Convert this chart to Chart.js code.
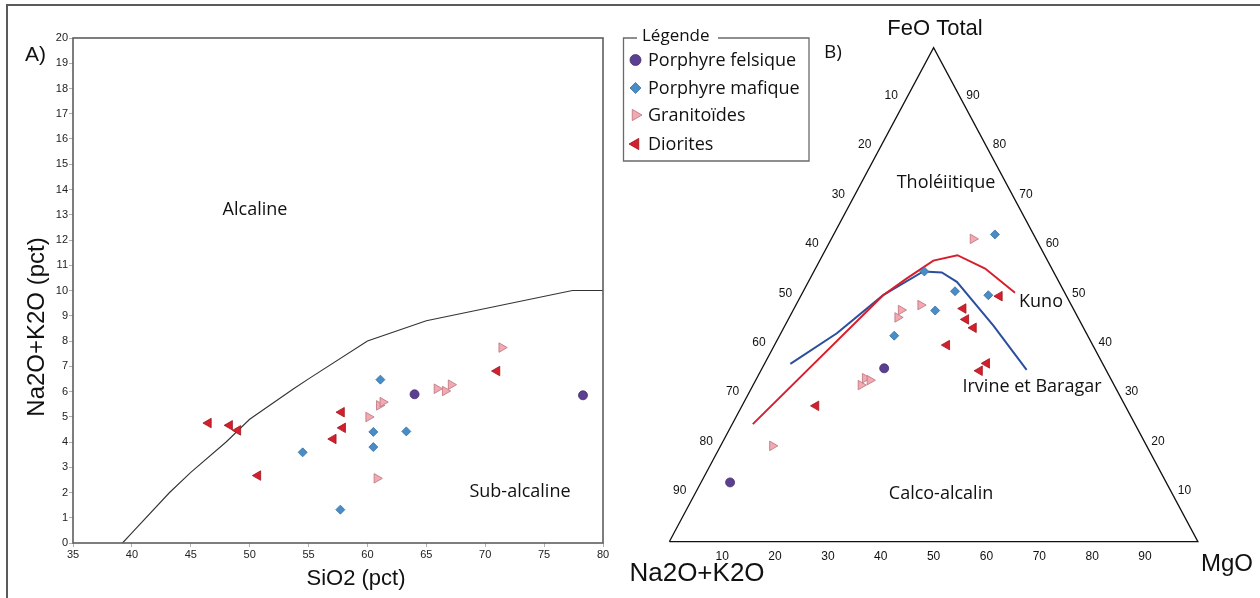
<!DOCTYPE html>
<html>
<head>
<meta charset="utf-8">
<script src="https://cdn.jsdelivr.net/npm/chart.js@4.4.0/dist/chart.umd.min.js"></script>
<style>
  body { margin: 0; background: #fff; width: 1260px; height: 598px; overflow: hidden; position: relative; }
  #frame { position: absolute; left: 6px; top: 4px; width: 1260px; height: 600px;
           border-top: 2px solid #5a5a5a; border-left: 2px solid #5a5a5a; }
  #tasChart { position: absolute; left: 0; top: 0; }
  #afmChart { position: absolute; left: 620px; top: 0; }
</style>
</head>
<body>
<div id="frame"></div>
<canvas id="tasChart" width="620" height="598"></canvas>
<canvas id="afmChart" width="640" height="598"></canvas>
<script>
// ---- A) SiO2 vs Na2O+K2O ----
const felsicSiO2 = [64.0, 78.3];
const felsicAlk = [5.89, 5.85];
const maficSiO2 = [61.1, 60.5, 60.5, 63.3, 54.5, 57.7];
const maficAlk = [6.47, 4.40, 3.80, 4.42, 3.59, 1.32];
const graniteSiO2 = [60.8, 60.1, 61.0, 61.3, 65.9, 66.6, 67.1, 71.4];
const graniteAlk = [2.56, 4.99, 5.45, 5.58, 6.11, 6.02, 6.27, 7.74];
const dioriteSiO2 = [46.5, 48.3, 49.0, 50.7, 57.8, 57.9, 57.1, 71.0];
const dioriteAlk = [4.75, 4.66, 4.46, 2.67, 5.18, 4.56, 4.12, 6.81];
// alcaline / sub-alcaline divide
const divideSiO2 = [39.2, 40, 43.2, 45, 48, 50, 53.7, 55, 60, 65, 77.4, 80];
const divideAlk = [0, 0.4, 2, 2.8, 4, 4.9, 6.1, 6.5, 8, 8.8, 10, 10];

// ---- B) AFM ternary (A = Na2O+K2O, F = FeO total, M = MgO) ----
const felsicA = [41.8, 82.5];
const felsicF = [35.1, 12.0];
const felsicM = [23.1, 5.5];
const maficA = [7.3, 24.4, 20.6, 14.7, 26.3, 36.6];
const maficF = [62.2, 54.7, 50.7, 49.9, 46.8, 41.7];
const maficM = [30.5, 20.9, 28.7, 35.4, 26.9, 21.7];
const graniteA = [11.9, 32.7, 34.1, 28.5, 47.9, 46.4, 45.7, 70.8];
const graniteF = [61.3, 46.9, 45.4, 47.9, 31.7, 33.1, 32.7, 19.4];
const graniteM = [26.8, 20.4, 20.5, 23.6, 20.4, 20.5, 21.6, 9.8];
const dioriteA = [12.7, 20.8, 21.4, 20.8, 27.6, 21.9, 24.0, 58.5];
const dioriteF = [49.7, 47.2, 45.0, 43.3, 39.8, 36.1, 34.6, 27.5];
const dioriteM = [37.6, 32.0, 33.6, 35.9, 32.6, 42.0, 41.4, 14.0];
const kunoA = [72.3, 34.6, 28.6, 21.6, 16.5, 12.6, 9.4];
const kunoF = [23.8, 49.9, 53.2, 56.9, 58.0, 55.3, 50.4];
const kunoM = [3.9, 15.5, 18.2, 21.5, 25.5, 32.1, 40.2];
const irvineA = [59.1, 47.2, 34.6, 24.6, 21.2, 19.3, 16.8, 15.0];
const irvineF = [36.0, 42.2, 49.9, 54.7, 54.5, 52.6, 43.7, 34.8];
const irvineM = [4.9, 10.6, 15.5, 20.7, 24.3, 28.1, 39.5, 50.2];
const edgeTicks = [10, 20, 30, 40, 50, 60, 70, 80, 90];

const series = [
    { label: 'Porphyre felsique', style: 'circle', rot: 0, r: 4.5, bg: '#5b3f91', bd: '#46306f' },
    { label: 'Porphyre mafique', style: 'rectRot', rot: 0, r: 4.5, bg: '#4a8cc6', bd: '#3570a3' },
    { label: 'Granitoïdes', style: 'triangle', rot: 90, r: 5.5, bg: '#f2a9b1', bd: '#b9737d' },
    { label: 'Diorites', style: 'triangle', rot: -90, r: 5.5, bg: '#d61f2c', bd: '#9c1820' },
];

const ARIAL = '"Liberation Sans", Arial, sans-serif';
const SANS = '"Open Sans", sans-serif';

function pairs(xs, ys) {
    return xs.map((v, i) => ({ x: v, y: ys[i] }));
}

// ternary composition -> cartesian (base 0..100, apex at y = 100)
function tern(a, f, m) {
    const s = a + f + m;
    return { x: 100 * (m + f / 2) / s, y: 100 * f / s };
}

function ternPoints(as, fs, ms) {
    return as.map((a, i) => tern(a, fs[i], ms[i]));
}

function pointDataset(s, data) {
    return {
        label: s.label,
        data: data,
        pointStyle: s.style,
        rotation: s.rot,
        pointRadius: s.r,
        pointBackgroundColor: s.bg,
        pointBorderColor: s.bd,
        pointBorderWidth: 0.8,
        showLine: false,
        clip: false,
    };
}

function lineDataset(data, color, width) {
    return {
        data: data,
        showLine: true,
        borderColor: color,
        borderWidth: width,
        pointRadius: 0,
        fill: false,
        clip: false,
    };
}

// ---- chart A ----
const tasDecor = {
    id: 'tasDecor',
    afterDatasetsDraw(chart) {
        const { ctx, chartArea: a } = chart;
        ctx.save();
        ctx.strokeStyle = '#5e5e5e';
        ctx.lineWidth = 1.6;
        ctx.strokeRect(a.left, a.top, a.right - a.left, a.bottom - a.top);

        ctx.fillStyle = '#111';
        ctx.textAlign = 'center';
        ctx.textBaseline = 'middle';
        ctx.font = '18px ' + SANS;
        ctx.fillText('Alcaline', 255, 210);
        ctx.fillText('Sub-alcaline', 520, 492);

        ctx.textBaseline = 'alphabetic';
        ctx.font = '22px ' + ARIAL;
        ctx.fillText('SiO2 (pct)', 356, 585);

        ctx.textAlign = 'left';
        ctx.font = '21px ' + ARIAL;
        ctx.fillText('A)', 25, 61);

        ctx.translate(43.5, 327);
        ctx.rotate(-Math.PI / 2);
        ctx.textAlign = 'center';
        ctx.font = '24px ' + ARIAL;
        ctx.fillText('Na2O+K2O (pct)', 0, 0);
        ctx.restore();
    }
};

const tickFont = { family: ARIAL, size: 11 };

new Chart(document.getElementById('tasChart').getContext('2d'), {
    type: 'scatter',
    data: {
        datasets: [
            pointDataset(series[0], pairs(felsicSiO2, felsicAlk)),
            pointDataset(series[1], pairs(maficSiO2, maficAlk)),
            pointDataset(series[2], pairs(graniteSiO2, graniteAlk)),
            pointDataset(series[3], pairs(dioriteSiO2, dioriteAlk)),
            lineDataset(pairs(divideSiO2, divideAlk), '#333', 1.1),
        ]
    },
    options: {
        responsive: false,
        animation: false,
        devicePixelRatio: 1,
        layout: { padding: { left: 0, top: 38, right: 17, bottom: 0 } },
        plugins: { legend: { display: false }, tooltip: { enabled: false } },
        scales: {
            x: {
                type: 'linear', min: 35, max: 80,
                ticks: { stepSize: 5, font: tickFont, color: '#222', padding: 1, maxRotation: 0 },
                grid: { drawOnChartArea: false, tickLength: 4, color: '#b0b0b0' },
                border: { display: false },
                afterFit: (s) => { s.height = 55; },
            },
            y: {
                type: 'linear', min: 0, max: 20,
                ticks: { stepSize: 1, font: tickFont, color: '#222', padding: 1 },
                grid: { drawOnChartArea: false, tickLength: 4, color: '#b0b0b0' },
                border: { display: false },
                afterFit: (s) => { s.width = 73; },
            },
        },
    },
    plugins: [tasDecor],
});

// ---- chart B ----
const afmDecor = {
    id: 'afmDecor',
    afterDraw(chart) {
        const { ctx, scales: { x, y } } = chart;
        const px = (a, f, m) => {
            const p = tern(a, f, m);
            return [x.getPixelForValue(p.x), y.getPixelForValue(p.y)];
        };
        ctx.save();
        ctx.fillStyle = '#111';
        ctx.textAlign = 'center';
        ctx.textBaseline = 'middle';

        // edge tick labels
        ctx.font = '12px ' + ARIAL;
        edgeTicks.forEach((v) => {
            let [lx, ly] = px(v, 100 - v, 0);
            ctx.fillText(v, lx - 16, ly - 1.5);
            [lx, ly] = px(0, v, 100 - v);
            ctx.fillText(v, lx + 13, ly - 1.5);
            [lx, ly] = px(100 - v, 0, v);
            ctx.fillText(v, lx, ly + 14.5);
        });

        // field labels
        ctx.font = '18px ' + SANS;
        ctx.fillText('Tholéiitique', 326, 183);
        ctx.fillText('Kuno', 421, 302);
        ctx.fillText('Irvine et Baragar', 412, 387);
        ctx.fillText('Calco-alcalin', 321, 494);

        ctx.font = '19px ' + SANS;
        ctx.textAlign = 'left';
        ctx.fillText('B)', 204, 53);

        // apex titles
        ctx.textAlign = 'center';
        ctx.font = '22px ' + ARIAL;
        ctx.fillText('FeO Total', 315, 29);
        ctx.font = '26px ' + ARIAL;
        ctx.fillText('Na2O+K2O', 77, 574);
        ctx.font = '24px ' + ARIAL;
        ctx.fillText('MgO', 607, 564);

        // legend box
        ctx.strokeStyle = '#6a6a6a';
        ctx.lineWidth = 1.3;
        ctx.beginPath();
        ctx.moveTo(17, 38);
        ctx.lineTo(3.5, 38);
        ctx.lineTo(3.5, 161);
        ctx.lineTo(189, 161);
        ctx.lineTo(189, 38);
        ctx.lineTo(98, 38);
        ctx.stroke();
        ctx.textAlign = 'left';
        ctx.textBaseline = 'alphabetic';
        ctx.font = '17px ' + SANS;
        ctx.fillText('Légende', 22, 41);

        const rowY = [60, 88, 115, 144];
        ctx.font = '18px ' + SANS;
        series.forEach((s, i) => {
            ctx.fillStyle = s.bg;
            ctx.strokeStyle = s.bd;
            ctx.lineWidth = 0.8;
            Chart.helpers.drawPoint(ctx, {
                pointStyle: s.style, rotation: s.rot, radius: s.r + 1, borderWidth: 0.8
            }, 15.5, rowY[i]);
            ctx.fillStyle = '#111';
            ctx.fillText(s.label, 28, rowY[i] + 6);
        });
        ctx.restore();
    }
};

const outline = [tern(100, 0, 0), tern(0, 0, 100), tern(0, 100, 0), tern(100, 0, 0)];

new Chart(document.getElementById('afmChart').getContext('2d'), {
    type: 'scatter',
    data: {
        datasets: [
            pointDataset(series[0], ternPoints(felsicA, felsicF, felsicM)),
            pointDataset(series[1], ternPoints(maficA, maficF, maficM)),
            pointDataset(series[2], ternPoints(graniteA, graniteF, graniteM)),
            pointDataset(series[3], ternPoints(dioriteA, dioriteF, dioriteM)),
            lineDataset(ternPoints(kunoA, kunoF, kunoM), '#d81e2c', 2),
            lineDataset(ternPoints(irvineA, irvineF, irvineM), '#2b4f9e', 2),
            lineDataset(outline, '#111', 1.3),
        ]
    },
    options: {
        responsive: false,
        animation: false,
        devicePixelRatio: 1,
        layout: { padding: { left: 49.3, right: 62.1, top: 47.7, bottom: 56.3 } },
        plugins: { legend: { display: false }, tooltip: { enabled: false } },
        scales: {
            x: { type: 'linear', min: 0, max: 100, display: false },
            y: { type: 'linear', min: 0, max: 100, display: false },
        },
    },
    plugins: [afmDecor],
});
</script>
</body>
</html>
